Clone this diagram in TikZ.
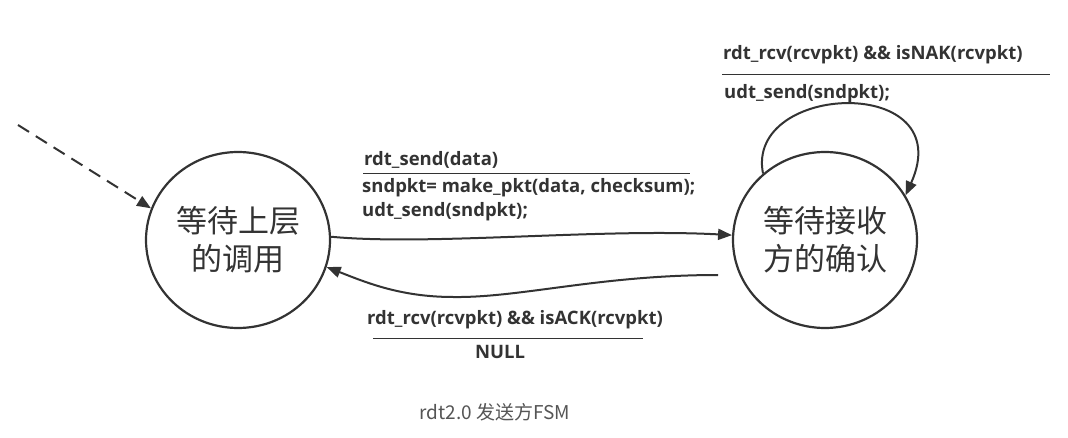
\documentclass[tikz,border=0pt]{standalone}
\usepackage{fontspec}
\setmainfont{Open Sans}
\newfontfamily\cjkfont{Noto Sans CJK SC}
\usetikzlibrary{shapes.geometric,arrows.meta}
\definecolor{ink}{HTML}{333333}
\definecolor{capgray}{HTML}{555555}
\tikzset{
  state/.style={ellipse,draw=ink,line width=2.2pt,minimum width=184pt,minimum height=176pt,inner sep=0pt,
    font=\cjkfont\fontsize{31pt}{38pt}\selectfont,text=ink,align=center},
  lbl/.style={font=\bfseries\fontsize{18.5pt}{21pt}\selectfont,text=ink,inner sep=0pt},
  conn/.style={draw=ink,line width=2pt,-{Triangle[length=14pt,width=11pt]}},
  rule/.style={draw=ink,line width=1pt}
}
\begin{document}
\begin{tikzpicture}[x=1pt,y=-1pt]
\useasboundingbox (0,0) rectangle (1068,438);
\node[state] (L) at (238,240) {等待上层\\的调用};
\node[state] (R) at (825,240) {等待接收\\方的确认};
\coordinate (init) at (18,125);
\coordinate (bstart) at (718,275);
\coordinate (bmid) at (453,297);
% initial dashed arrow
\draw[conn,dash pattern=on 13pt off 8pt] (init) -- (L.160);
% top transition
\draw[conn] (L.2) .. controls (430,246) and (600,228) .. (R.177);
% bottom transition
\draw[conn] (bstart) .. controls (600,275) and (520,298) .. (bmid) .. controls (400,297) and (365,282) .. (L.-17);
% self loop
\draw[conn] (R.133) .. controls (745,82) and (960,74) .. (R.29);
% labels
\node[lbl,anchor=west] (t1) at (364,160) {rdt\_send(data)};
\draw[rule] (363,174) -- (690,174);
\node[lbl,anchor=west] (t2) at (362,188) {sndpkt= make\_pkt(data, checksum);};
\node[lbl,anchor=west] (t3) at (362,212) {udt\_send(sndpkt);};
\node[lbl,anchor=west] (n1) at (723,55) {rdt\_rcv(rcvpkt) \&\& isNAK(rcvpkt)};
\draw[rule] (722,75) -- (1050,75);
\node[lbl,anchor=west] (n2) at (724,94) {udt\_send(sndpkt);};
\node[lbl] (a1) at (515,320) {rdt\_rcv(rcvpkt) \&\& isACK(rcvpkt)};
\draw[rule] (373,338) -- (643,338);
\node[lbl] (a2) at (500,352) {NULL};
\node[font=\cjkfont\fontsize{19pt}{21pt}\selectfont,text=capgray,inner sep=0pt] (cap) at (495,412) {rdt2.0 发送方FSM};
\end{tikzpicture}
\end{document}
